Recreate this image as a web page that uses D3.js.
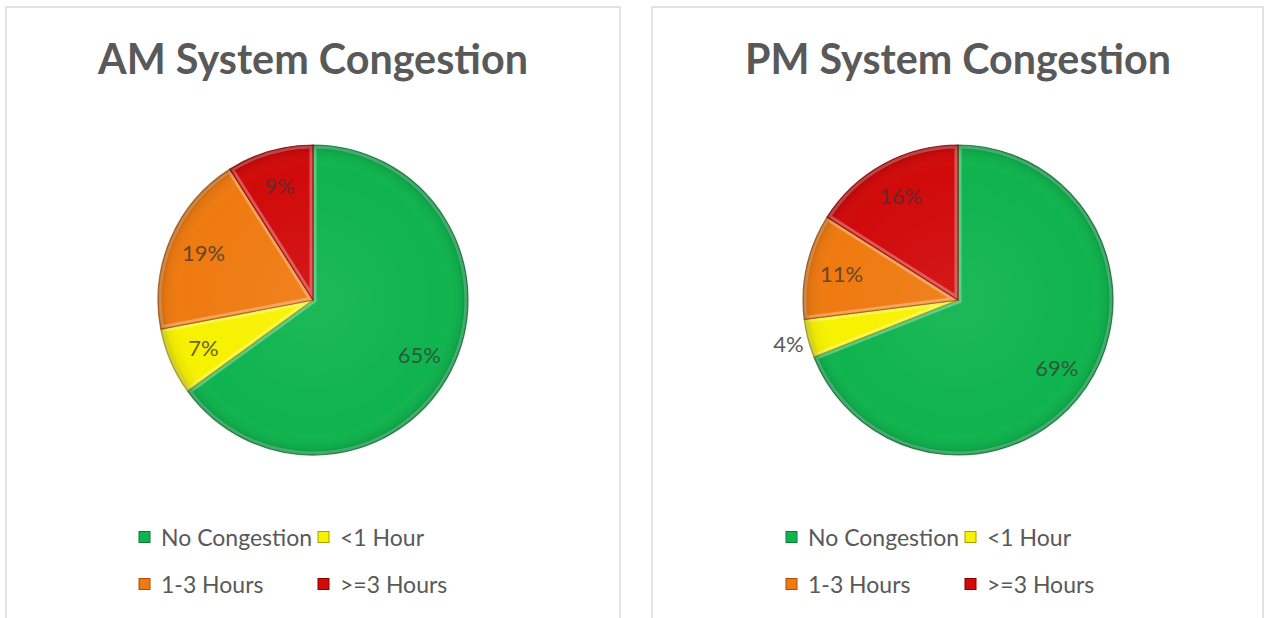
<!DOCTYPE html>
<html>
<head>
<meta charset="utf-8">
<script src="https://cdn.jsdelivr.net/npm/d3@7"></script>
<style>
  html, body { margin: 0; padding: 0; background: #ffffff; }
  svg { display: block; }
</style>
</head>
<body>
<svg id="chart" width="1267" height="618"></svg>
<script>
// ---- data ----
const categories = ["No Congestion", "<1 Hour", "1-3 Hours", ">=3 Hours"];
const amValues = [65, 7, 19, 9];
const pmValues = [69, 4, 11, 16];
const titles = ["AM System Congestion", "PM System Congestion"];
const colors = ["#0fb44e", "#f7f200", "#ef7a10", "#d10a0a"];
const edgeColors = ["#0a7a35", "#a8a000", "#a8500a", "#8a0000"];
const labelColors = ["#2a5a3c", "#66622c", "#66462a", "#66282a"];

const svg = d3.select("#chart");
const defs = svg.append("defs");

// rim shading gradient for a soft bevel look
const rg = defs.append("radialGradient").attr("id", "rim")
  .attr("cx", "50%").attr("cy", "50%").attr("r", "50%");
rg.append("stop").attr("offset", "0%").attr("stop-color", "#ffffff").attr("stop-opacity", 0.06);
rg.append("stop").attr("offset", "85%").attr("stop-color", "#ffffff").attr("stop-opacity", 0);
rg.append("stop").attr("offset", "96%").attr("stop-color", "#000000").attr("stop-opacity", 0.06);
rg.append("stop").attr("offset", "100%").attr("stop-color", "#000000").attr("stop-opacity", 0.22);

const panels = [
  { x: 6, y: 7, w: 614, h: 620, cx: 313, cy: 300, values: amValues, title: titles[0], legX: 139, col2: 318 },
  { x: 652, y: 7, w: 611, h: 620, cx: 958, cy: 300, values: pmValues, title: titles[1], legX: 786, col2: 965 }
];
const R = 155;

const pie = d3.pie().sort(null).value(d => d);
const arc = d3.arc().innerRadius(0).outerRadius(R);
const labelArc = d3.arc().innerRadius(R * 0.77).outerRadius(R * 0.77);
const outerLabelArc = d3.arc().innerRadius(R * 1.13).outerRadius(R * 1.13);

panels.forEach((p, pi) => {
  const g = svg.append("g");
  // panel border
  g.append("rect")
    .attr("x", p.x).attr("y", p.y).attr("width", p.w).attr("height", p.h)
    .attr("fill", "#ffffff").attr("stroke", "#d9d9d9").attr("stroke-width", 1.5);

  // title
  const t = g.append("text")
    .attr("x", p.cx + 0).attr("y", 74)
    .attr("text-anchor", "middle")
    .attr("font-family", "Lato, 'Open Sans', sans-serif")
    .attr("font-weight", "bold")
    .attr("fill", "#595959")
    .attr("font-size", 40)
    .text(p.title);
  const tw = t.node().getComputedTextLength();
  const targetW = pi === 0 ? 430 : 426;
  t.attr("font-size", 40 * targetW / tw);

  // pie
  const pg = g.append("g").attr("transform", `translate(${p.cx},${p.cy})`);
  const arcs = pie(p.values);
  const clipId = "clip" + pi;
  arcs.forEach((a, i) => {
    const cid = clipId + "_" + i;
    defs.append("clipPath").attr("id", cid).append("path").attr("d", arc(a));
    const sg = pg.append("g");
    sg.append("path").attr("d", arc(a)).attr("fill", colors[i]);
    // bevel highlight along slice edges (clipped inside slice)
    sg.append("path").attr("d", arc(a))
      .attr("fill", "none")
      .attr("stroke", "#ffffff").attr("stroke-opacity", 0.3).attr("stroke-width", 7)
      .attr("clip-path", `url(#${cid})`);
    sg.append("path").attr("d", arc(a))
      .attr("fill", "none")
      .attr("stroke", edgeColors[i]).attr("stroke-opacity", 0.8).attr("stroke-width", 1.2);
  });
  pg.append("circle").attr("r", R).attr("fill", "url(#rim)");

  // data labels
  arcs.forEach((a, i) => {
    const small = p.values[i] < 5;
    const c = small ? outerLabelArc.centroid(a) : labelArc.centroid(a);
    pg.append("text")
      .attr("x", c[0]).attr("y", c[1])
      .attr("text-anchor", "middle")
      .attr("dominant-baseline", "central")
      .attr("font-family", "Lato, 'Open Sans', sans-serif")
      .attr("font-size", 22)
      .attr("fill", small ? "#595959" : labelColors[i])
      .text(p.values[i] + "%");
  });

  // legend
  const rows = [[0, 1], [2, 3]];
  rows.forEach((row, ri) => {
    row.forEach((ci, k) => {
      const x = k === 0 ? p.legX : p.col2;
      const y = 537 + ri * 47;
      g.append("rect")
        .attr("x", x).attr("y", y - 5.5).attr("width", 11).attr("height", 11)
        .attr("fill", colors[ci]).attr("stroke", edgeColors[ci]).attr("stroke-width", 1);
      g.append("text")
        .attr("x", x + 22).attr("y", y)
        .attr("dominant-baseline", "central")
        .attr("font-family", "Lato, 'Open Sans', sans-serif")
        .attr("font-size", 23)
        .attr("fill", "#595959")
        .text(categories[ci]);
    });
  });
});
</script>
</body>
</html>
